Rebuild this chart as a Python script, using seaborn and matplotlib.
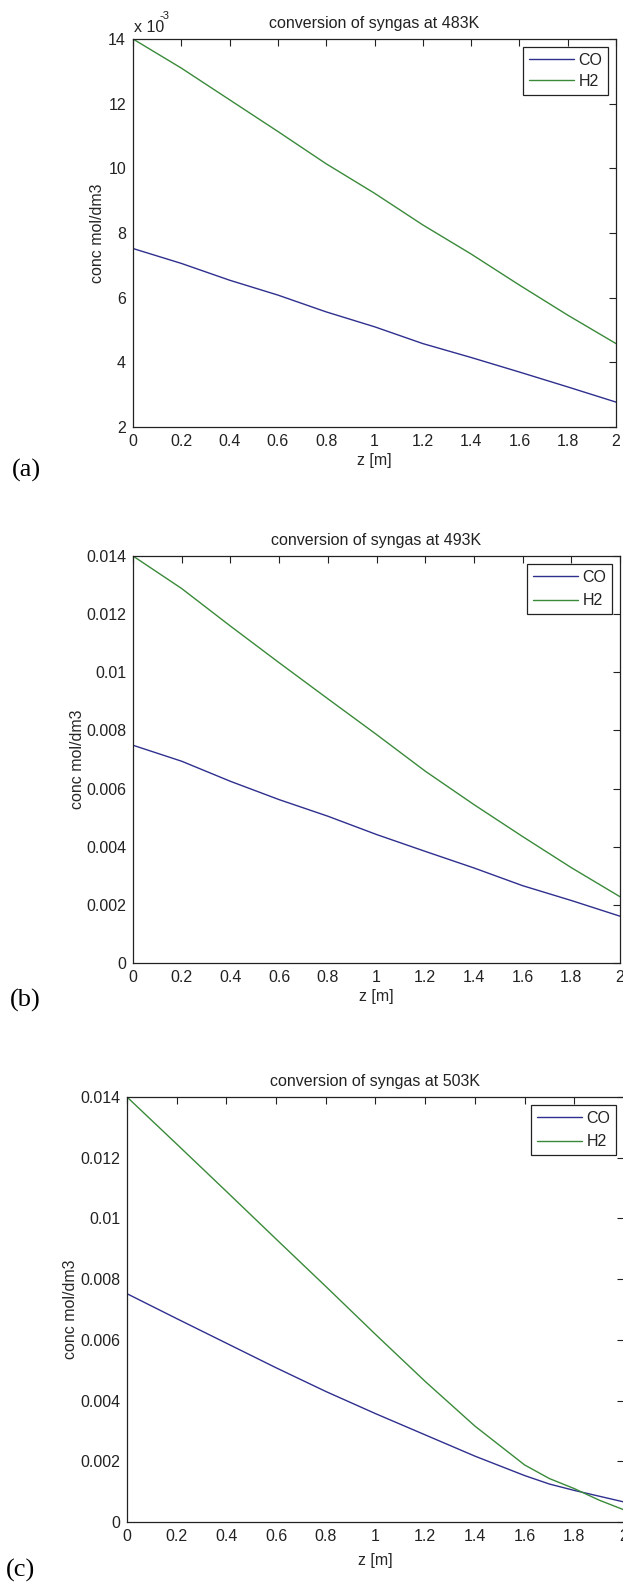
import numpy as np
import pandas as pd
import matplotlib
matplotlib.use("Agg")
import matplotlib.pyplot as plt
import seaborn as sns
from matplotlib.ticker import FixedLocator, FuncFormatter
from matplotlib import font_manager

# ---------------- data ----------------
z = [0.0, 0.2, 0.4, 0.6, 0.8, 1.0, 1.2, 1.4, 1.6, 1.8, 2.0]

co_483 = [0.00752, 0.00706, 0.00654, 0.00608, 0.00556, 0.00510, 0.00458, 0.00415, 0.00370, 0.00324, 0.00277]
h2_483 = [0.01400, 0.01310, 0.01212, 0.01114, 0.01014, 0.00923, 0.00825, 0.00735, 0.00639, 0.00546, 0.00458]

co_493 = [0.00749, 0.00694, 0.00625, 0.00562, 0.00505, 0.00442, 0.00384, 0.00327, 0.00266, 0.00215, 0.00161]
h2_493 = [0.01400, 0.01288, 0.01159, 0.01033, 0.00909, 0.00786, 0.00660, 0.00545, 0.00435, 0.00328, 0.00228]

z_503 = [0.0, 0.2, 0.4, 0.6, 0.8, 1.0, 1.2, 1.4, 1.6, 1.7, 1.8, 1.9, 2.0]
co_503 = [0.00752, 0.00670, 0.00589, 0.00508, 0.00430, 0.00357, 0.00287, 0.00217, 0.00153, 0.00125, 0.00104, 0.00085, 0.00066]
h2_503 = [0.01400, 0.01245, 0.01089, 0.00932, 0.00776, 0.00618, 0.00463, 0.00316, 0.00188, 0.00143, 0.00110, 0.00072, 0.00040]

species = ["CO", "H2"]
titles = ["conversion of syngas at 483K", "conversion of syngas at 493K", "conversion of syngas at 503K"]
panel_tags = ["(a)", "(b)", "(c)"]
xticks = [0, 0.2, 0.4, 0.6, 0.8, 1.0, 1.2, 1.4, 1.6, 1.8, 2.0]
yticks_a = [0.002, 0.004, 0.006, 0.008, 0.010, 0.012, 0.014]
yticks_bc = [0.0, 0.002, 0.004, 0.006, 0.008, 0.010, 0.012, 0.014]

# ---------------- styling ----------------
sns.set_theme(style="white")
available = {f.name for f in font_manager.fontManager.ttflist}
FONT = [f for f in ["Liberation Sans Narrow", "DejaVu Sans Condensed", "Liberation Sans", "DejaVu Sans"]
        if f in available] or ["DejaVu Sans"]
narrow = FONT[0] in ("Liberation Sans Narrow", "DejaVu Sans Condensed")
plt.rcParams["font.family"] = FONT
plt.rcParams["axes.edgecolor"] = "#222222"
plt.rcParams["axes.linewidth"] = 0.9
plt.rcParams["text.color"] = "#222222"
plt.rcParams["xtick.color"] = "#222222"
plt.rcParams["ytick.color"] = "#222222"

FS = 12.5 if narrow else 11.5
palette = {"CO": "#2f2f8f", "H2": "#3a8a3a"}

W, H = 623, 1584
fig = plt.figure(figsize=(W / 100, H / 100), dpi=100)
fig.patch.set_facecolor("white")

def frac(left, right, top, bottom):
    return [left / W, 1 - bottom / H, (right - left) / W, (bottom - top) / H]

# pixel boxes: left, right, top, bottom
boxes = [(133, 616, 39, 427), (133, 620, 556, 963), (127, 624, 1097, 1522)]
ylab_x = [97, 77, 70]
xlab_gap = [34, 34, 38]
tag_pos = [(12, 470), (10, 1000), (6, 1570)]
legend_h = [0.40, 0.55, 0.55]

datasets = [
    (z, co_483, h2_483, (0.002, 0.014), yticks_a),
    (z, co_493, h2_493, (0.0, 0.014), yticks_bc),
    (z_503, co_503, h2_503, (0.0, 0.014), yticks_bc),
]

for i, (zz, co, h2, ylim, yt) in enumerate(datasets):
    l, r, t, b = boxes[i]
    ax = fig.add_axes(frac(l, r, t, b))
    ax.set_facecolor("white")
    df = pd.DataFrame({
        "z": list(zz) + list(zz),
        "conc": list(co) + list(h2),
        "species": ["CO"] * len(zz) + ["H2"] * len(zz),
    })
    sns.lineplot(data=df, x="z", y="conc", hue="species", hue_order=species,
                 palette=palette, linewidth=1.0, ax=ax, legend=True)
    ax.set_xlim(0, 2)
    ax.set_ylim(*ylim)
    ax.xaxis.set_major_locator(FixedLocator(xticks))
    ax.yaxis.set_major_locator(FixedLocator(yt))
    ax.xaxis.set_major_formatter(FuncFormatter(lambda v, p: "%g" % round(v, 4)))
    if i == 0:
        ax.yaxis.set_major_formatter(FuncFormatter(lambda v, p: "%g" % round(v * 1000, 4)))
    else:
        ax.yaxis.set_major_formatter(FuncFormatter(lambda v, p: "%g" % round(v, 5)))
    ax.tick_params(direction="in", length=5, width=0.8, top=True, right=True,
                   labelsize=FS, pad=5)
    for s in ax.spines.values():
        s.set_visible(True)
        s.set_color("#222222")
        s.set_linewidth(0.9)
    ax.set_title(titles[i], fontsize=FS, pad=8)
    ax.set_xlabel("z [m]", fontsize=FS)
    ax.set_ylabel("conc mol/dm3", fontsize=FS)
    ax.yaxis.label.set_va("center")
    ax.yaxis.set_label_coords((ylab_x[i] - l) / (r - l), 0.5)
    ax.xaxis.label.set_va("center")
    ax.xaxis.set_label_coords(0.5, -xlab_gap[i] / (b - t))
    handles, labels = ax.get_legend_handles_labels()
    leg = ax.legend(handles, labels, loc="upper right", fontsize=FS, frameon=True,
                    fancybox=False, edgecolor="#222222", framealpha=1,
                    handlelength=2.8, handletextpad=0.3, borderpad=0.35,
                    labelspacing=legend_h[i], borderaxespad=0.5, markerfirst=True)
    leg.get_frame().set_linewidth(0.9)
    if i == 0:
        fig.text((l + 1) / W, 1 - 27 / H, "x 10", fontsize=FS, ha="left", va="center")
        fig.text((l + 27) / W, 1 - 16 / H, "-3", fontsize=FS * 0.7, ha="left", va="center")
    tx, ty = tag_pos[i]
    fig.text(tx / W, 1 - ty / H, panel_tags[i], fontsize=19, ha="left", va="center",
             family=["Liberation Serif", "DejaVu Serif"], color="black")

fig.savefig("out.png", dpi=100, facecolor="white")
